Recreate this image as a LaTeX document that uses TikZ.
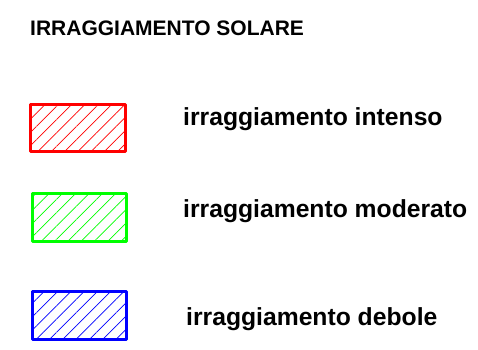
\documentclass[tikz,border=0pt]{standalone}
\usepackage{fontspec}
\setmainfont{Liberation Sans}
\usetikzlibrary{patterns.meta}

\tikzset{
  legendbox/.style={draw=#1, line width=3pt, line join=round,
    minimum width=94pt, minimum height=47pt, inner sep=0pt,
    pattern={Lines[angle=45, distance=9.4pt, line width=0.7pt]},
    pattern color=#1},
  legendlabel/.style={anchor=base west, inner sep=0pt,
    font=\fontsize{24.7}{28}\selectfont\bfseries}
}

\begin{document}
\begin{tikzpicture}[x=1pt, y=-1pt]
    \useasboundingbox (0,0) rectangle (478,349);

    % title
    \node[anchor=base west, inner sep=0pt, font=\fontsize{21}{24}\selectfont\bfseries]
      (title) at (30,35) {IRRAGGIAMENTO SOLARE};

    % intense
    \node[legendbox=red, minimum width=95pt] (intense) at (78,128) {};
    \node[legendlabel] (intenselabel) at (183,125) {irraggiamento intenso};

    % moderate
    \node[legendbox=green, minimum height=48pt] (moderate) at (79.5,217.5) {};
    \node[legendlabel] (moderatelabel) at (183,217) {irraggiamento moderato};

    % weak
    \node[legendbox=blue, minimum height=47.5pt] (weak) at (79.5,315.25) {};
    \node[legendlabel] (weaklabel) at (186,325) {irraggiamento debole};
\end{tikzpicture}
\end{document}
